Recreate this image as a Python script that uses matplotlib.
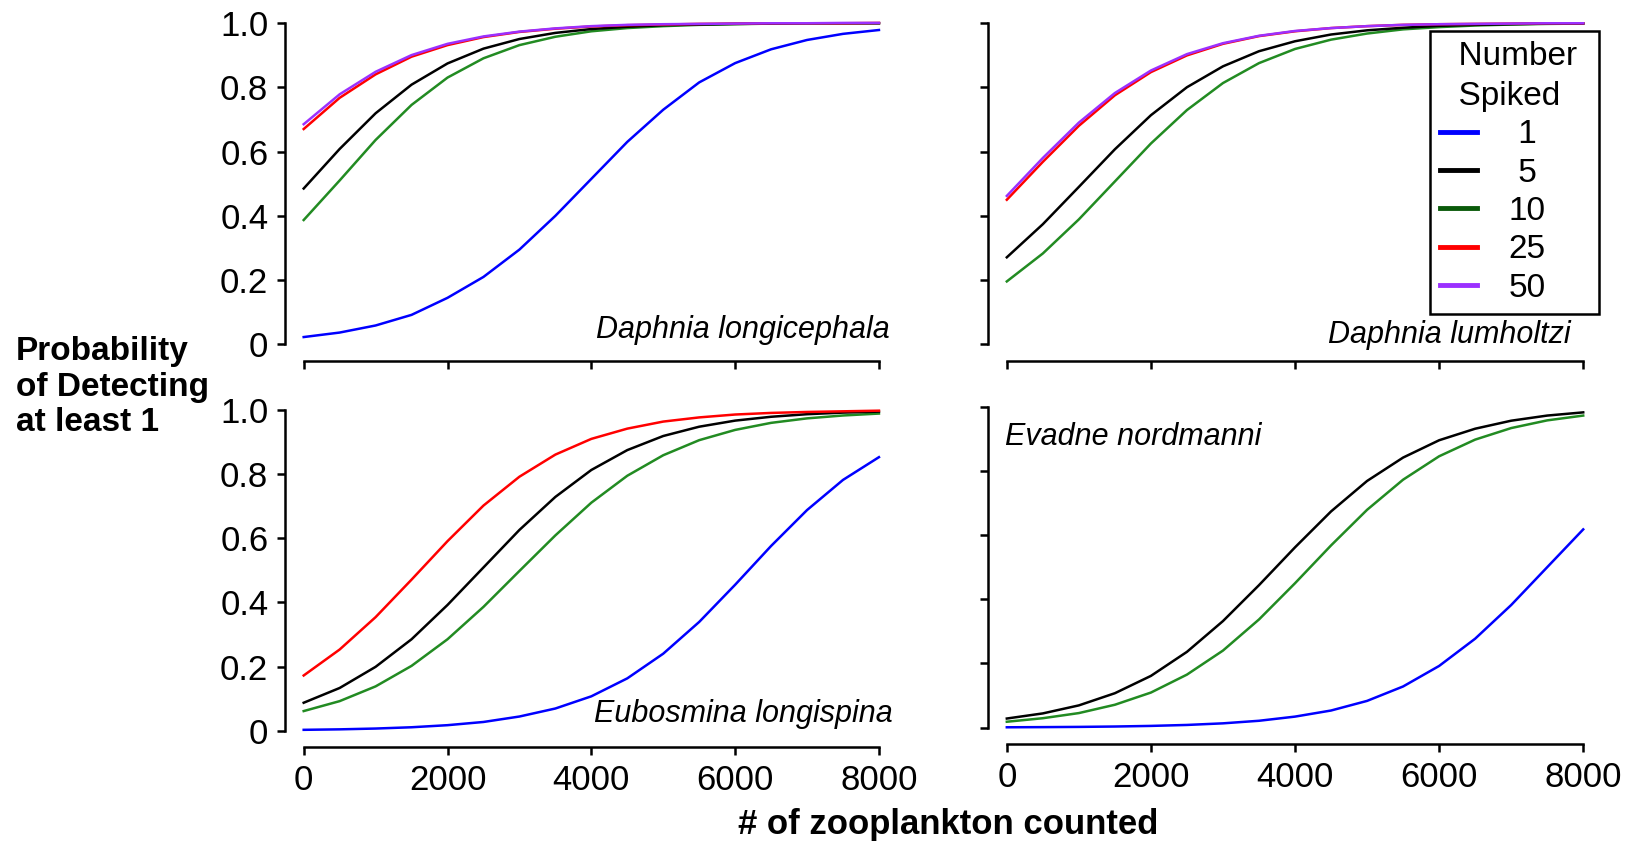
import matplotlib.pyplot as plt
from matplotlib.lines import Line2D

plt.rcParams['font.family'] = ['Liberation Sans', 'DejaVu Sans']

# number of zooplankton counted (x values read every 500)
counted = [0, 500, 1000, 1500, 2000, 2500, 3000, 3500, 4000,
           4500, 5000, 5500, 6000, 6500, 7000, 7500, 8000]

# Daphnia longicephala
longi_1 = [0.023, 0.037, 0.059, 0.092, 0.145, 0.21, 0.295, 0.40, 0.515,
           0.63, 0.73, 0.815, 0.875, 0.918, 0.947, 0.966, 0.978]
longi_5 = [0.485, 0.608, 0.719, 0.808, 0.874, 0.92, 0.95, 0.969, 0.981,
           0.988, 0.993, 0.995, 0.997, 0.998, 0.999, 0.999, 0.999]
longi_10 = [0.387, 0.51, 0.636, 0.745, 0.83, 0.89, 0.931, 0.957, 0.974,
            0.984, 0.99, 0.994, 0.996, 0.998, 0.998, 0.999, 0.999]
longi_25 = [0.67, 0.767, 0.84, 0.895, 0.931, 0.956, 0.972, 0.982, 0.989,
            0.993, 0.995, 0.997, 0.998, 0.999, 0.999, 0.999, 1.0]
longi_50 = [0.685, 0.778, 0.848, 0.9, 0.935, 0.958, 0.973, 0.983, 0.99,
            0.994, 0.996, 0.997, 0.998, 0.999, 0.999, 1.0, 1.0]

# Daphnia lumholtzi
lum_5 = [0.271, 0.374, 0.49, 0.607, 0.713, 0.8, 0.865, 0.912, 0.943,
         0.964, 0.977, 0.985, 0.991, 0.994, 0.996, 0.998, 0.998]
lum_10 = [0.196, 0.283, 0.389, 0.507, 0.625, 0.729, 0.813, 0.875, 0.919,
          0.948, 0.967, 0.98, 0.987, 0.992, 0.995, 0.997, 0.998]
lum_25 = [0.45, 0.568, 0.68, 0.775, 0.847, 0.899, 0.935, 0.959, 0.974,
          0.984, 0.99, 0.994, 0.996, 0.997, 0.998, 0.999, 0.999]
lum_50 = [0.462, 0.58, 0.69, 0.782, 0.852, 0.903, 0.937, 0.96, 0.975,
          0.984, 0.99, 0.994, 0.996, 0.997, 0.998, 0.999, 0.999]

# Eubosmina longispina
eubo_1 = [0.0025, 0.004, 0.0065, 0.0105, 0.017, 0.027, 0.044, 0.069, 0.107,
          0.163, 0.24, 0.339, 0.455, 0.576, 0.688, 0.782, 0.853]
eubo_5 = [0.087, 0.133, 0.199, 0.285, 0.392, 0.509, 0.626, 0.729, 0.813,
          0.875, 0.919, 0.948, 0.967, 0.979, 0.987, 0.992, 0.995]
eubo_10 = [0.061, 0.092, 0.138, 0.202, 0.285, 0.386, 0.498, 0.609, 0.711,
           0.795, 0.859, 0.906, 0.938, 0.96, 0.974, 0.983, 0.989]
eubo_25 = [0.172, 0.253, 0.354, 0.471, 0.591, 0.702, 0.792, 0.861, 0.91,
           0.942, 0.964, 0.977, 0.986, 0.991, 0.994, 0.996, 0.998]

# Evadne nordmanni
evad_1 = [0.0007, 0.0012, 0.0019, 0.0031, 0.005, 0.008, 0.013, 0.021, 0.034,
          0.053, 0.083, 0.128, 0.192, 0.277, 0.382, 0.5, 0.618]
evad_5 = [0.028, 0.044, 0.069, 0.107, 0.161, 0.236, 0.332, 0.444, 0.562,
          0.674, 0.769, 0.842, 0.896, 0.932, 0.957, 0.973, 0.983]
evad_10 = [0.018, 0.029, 0.045, 0.071, 0.109, 0.165, 0.24, 0.337, 0.45,
           0.568, 0.679, 0.773, 0.846, 0.898, 0.934, 0.958, 0.973]

spiked = ['1', '5', '10', '25', '50']
x_ticks = [0, 2000, 4000, 6000, 8000]
y_ticks = [0, 0.2, 0.4, 0.6, 0.8, 1.0]
y_ticklabels = ['0', '0.2', '0.4', '0.6', '0.8', '1.0']

col = {'1': '#0000FF', '5': '#000000', '10': '#228B22', '25': '#FF0000', '50': '#9B30FF'}
legend_col = {'1': '#0000FF', '5': '#000000', '10': '#0A5A0A', '25': '#FF0000', '50': '#9B30FF'}

fig = plt.figure(figsize=(16.31, 8.43), dpi=100)


def setup(ax, xlabels, ylabels):
    ax.set_xlim(0, 8000)
    ax.set_ylim(0, 1)
    ax.spines['top'].set_visible(False)
    ax.spines['right'].set_visible(False)
    ax.spines['left'].set_position(('outward', 13.5))
    ax.spines['bottom'].set_position(('outward', 12))
    ax.spines['left'].set_bounds(0, 1)
    ax.spines['bottom'].set_bounds(0, 8000)
    ax.spines['left'].set_linewidth(1.8)
    ax.spines['bottom'].set_linewidth(1.8)
    ax.set_xticks(x_ticks)
    ax.set_yticks(y_ticks)
    ax.tick_params(length=6, width=1.8, labelsize=25, pad=6)
    if xlabels:
        ax.set_xticklabels([str(t) for t in x_ticks])
    else:
        ax.set_xticklabels([])
    if ylabels:
        ax.set_yticklabels(y_ticklabels)
    else:
        ax.set_yticklabels([])


ax_tl = fig.add_axes([0.1862, 0.5914, 0.3527, 0.3814])
ax_tr = fig.add_axes([0.6173, 0.5914, 0.3534, 0.3814])
ax_bl = fig.add_axes([0.1862, 0.1333, 0.3527, 0.3803])
ax_br = fig.add_axes([0.6173, 0.1370, 0.3534, 0.3803])

setup(ax_tl, False, True)
setup(ax_tr, False, False)
setup(ax_bl, True, True)
setup(ax_br, True, False)

lw = 1.8
ax_tl.plot(counted, longi_1, color=col['1'], lw=lw, clip_on=False)
ax_tl.plot(counted, longi_10, color=col['10'], lw=lw, clip_on=False)
ax_tl.plot(counted, longi_5, color=col['5'], lw=lw, clip_on=False)
ax_tl.plot(counted, longi_25, color=col['25'], lw=lw, clip_on=False)
ax_tl.plot(counted, longi_50, color=col['50'], lw=lw, clip_on=False)

ax_tr.plot(counted, lum_10, color=col['10'], lw=lw, clip_on=False)
ax_tr.plot(counted, lum_5, color=col['5'], lw=lw, clip_on=False)
ax_tr.plot(counted, lum_25, color=col['25'], lw=lw, clip_on=False)
ax_tr.plot(counted, lum_50, color=col['50'], lw=lw, clip_on=False)

ax_bl.plot(counted, eubo_1, color=col['1'], lw=lw, clip_on=False)
ax_bl.plot(counted, eubo_10, color=col['10'], lw=lw, clip_on=False)
ax_bl.plot(counted, eubo_5, color=col['5'], lw=lw, clip_on=False)
ax_bl.plot(counted, eubo_25, color=col['25'], lw=lw, clip_on=False)

ax_br.plot(counted, evad_1, color=col['1'], lw=lw, clip_on=False)
ax_br.plot(counted, evad_10, color=col['10'], lw=lw, clip_on=False)
ax_br.plot(counted, evad_5, color=col['5'], lw=lw, clip_on=False)

# species names
sp = dict(fontsize=22, style='italic')
ax_tl.text(1.018, 0.045, 'Daphnia longicephala', transform=ax_tl.transAxes, ha='right', va='center', **sp)
ax_tr.text(0.978, 0.03, 'Daphnia lumholtzi', transform=ax_tr.transAxes, ha='right', va='center', **sp)
ax_bl.text(1.024, 0.052, 'Eubosmina longispina', transform=ax_bl.transAxes, ha='right', va='center', **sp)
ax_br.text(-0.004, 0.905, 'Evadne nordmanni', transform=ax_br.transAxes, ha='left', va='center', **sp)

# legend
handles = [Line2D([], [], color=legend_col[s], lw=3.5) for s in spiked]
labels = [' 1', ' 5', '10', '25', '50']
leg = fig.legend(handles, labels, title='  Number\n  Spiked', loc='upper left',
                 bbox_to_anchor=(0.8769, 0.6333, 0.1033, 0.3297), mode='expand',
                 bbox_transform=fig.transFigure,
                 fontsize=24, title_fontsize=24, fancybox=False, framealpha=1,
                 edgecolor='black', handlelength=1.1, handletextpad=0.95,
                 labelspacing=0.22, borderpad=0.3, borderaxespad=0, alignment='left')
leg.get_frame().set_linewidth(1.8)
leg.get_title().set_linespacing(1.37)

fig.text(0.0096, 0.5407, 'Probability\nof Detecting\nat least 1', fontsize=24,
         fontweight='bold', ha='left', va='center', linespacing=1.2)
fig.text(0.5816, 0.022, '# of zooplankton counted', fontsize=25,
         fontweight='bold', ha='center', va='center')

fig.savefig('out.png', dpi=100)
